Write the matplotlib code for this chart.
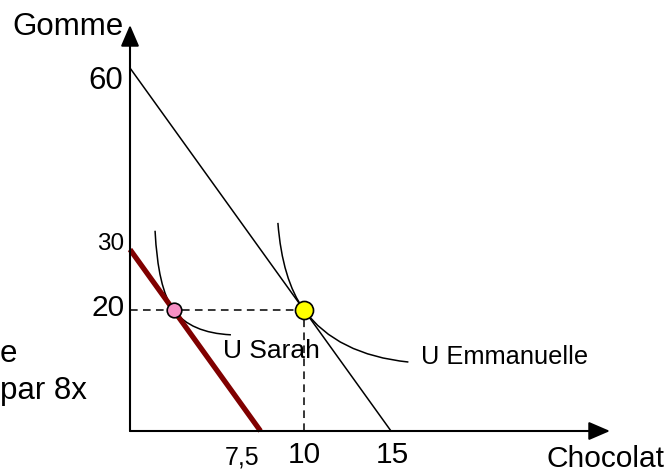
import matplotlib.pyplot as plt
from matplotlib.path import Path
from matplotlib.patches import PathPatch

plt.rcParams['font.family'] = ['Liberation Sans', 'DejaVu Sans']

# budget lines: intercepts on each axis
budget_emmanuelle = ([0, 15], [60, 0])
budget_sarah = ([0, 7.5], [30, 0])

# chosen baskets
point_sarah = (2.5, 20)
point_emmanuelle = (10, 20)

# indifference curves: start, control, tangency, control, end
curve_sarah = [(1.44, 33.1), (1.6, 23.6), (2.5, 20), (3.5, 16.2), (5.8, 15.9)]
curve_emmanuelle = [(8.5, 34.4), (8.75, 25.0), (10, 20), (11.9, 12.6), (16.0, 11.4)]

x_ticks = [7.5, 10, 15]
x_ticklabels = ['7,5', '10', '15']
y_ticks = [20, 30, 60]
y_ticklabels = ['20', '30', '60']

W, H = 669, 472
fig = plt.figure(figsize=(W / 100, H / 100), dpi=100)

# axes box in pixels: left 130, right 610, top 25, bottom 431
x0, x1, y0, y1 = 130, 610, 25, 431
ax = fig.add_axes([x0 / W, 1 - y1 / H, (x1 - x0) / W, (y1 - y0) / H])
xmax = (x1 - x0) / 17.4
ymax = (y1 - y0) / 6.05
ax.set_xlim(0, xmax)
ax.set_ylim(0, ymax)
ax.axis('off')

# axes drawn as arrows
arrow = dict(arrowstyle='-|>,head_length=0.65,head_width=0.28', mutation_scale=20,
             color='black', lw=1.5, shrinkA=0, shrinkB=0)
ax.annotate('', xy=(xmax, 0), xytext=(0, 0), arrowprops=arrow, annotation_clip=False)
ax.annotate('', xy=(0, ymax), xytext=(0, 0), arrowprops=arrow, annotation_clip=False)

# budget lines
ax.plot(*budget_emmanuelle, color='black', lw=1.1, clip_on=False)
ax.plot(*budget_sarah, color='#800000', lw=3.8, solid_capstyle='butt', clip_on=False)

# dashed guides to the Emmanuelle basket
ax.plot([0, point_emmanuelle[0]], [point_emmanuelle[1]] * 2, color='black',
        lw=1.1, dashes=(5, 3.5))
ax.plot([point_emmanuelle[0]] * 2, [0, point_emmanuelle[1]], color='black',
        lw=1.1, dashes=(5, 3.5))


def draw_curve(pts):
    codes = [Path.MOVETO, Path.CURVE3, Path.CURVE3, Path.CURVE3, Path.CURVE3]
    ax.add_patch(PathPatch(Path(pts, codes), fill=False, lw=1.1, edgecolor='black'))


draw_curve(curve_sarah)
draw_curve(curve_emmanuelle)

ax.plot(*point_sarah, 'o', ms=10.5, mfc='#f78fc4', mec='black', mew=1.2, zorder=5)
ax.plot(*point_emmanuelle, 'o', ms=13, mfc='#ffff00', mec='black', mew=1.2, zorder=5)


def ftext(px, py, s, size, ha='center', va='center'):
    fig.text(px / W, 1 - py / H, s, fontsize=size, ha=ha, va=va)


# tick values
ftext(242, 457, x_ticklabels[0], 18)
ftext(304, 455, x_ticklabels[1], 21.5)
ftext(392, 455, x_ticklabels[2], 21.5)
ftext(125, 308, y_ticklabels[0], 21.5, ha='right')
ftext(124, 244, y_ticklabels[1], 17.5, ha='right')
ftext(123, 81, y_ticklabels[2], 22.5, ha='right')

# axis names and curve labels
ftext(12, 27, 'Gomme', 22.5, ha='left')
ftext(664, 459, 'Chocolat', 21.5, ha='right')
ftext(223, 351, 'U Sarah', 19, ha='left')
ftext(421, 357, 'U Emmanuelle', 18.3, ha='left')

# text running in from the left margin
ftext(0, 354, 'e', 22.5, ha='left')
ftext(0, 391, 'par 8x', 22.5, ha='left')

fig.savefig('out.png', dpi=100)
